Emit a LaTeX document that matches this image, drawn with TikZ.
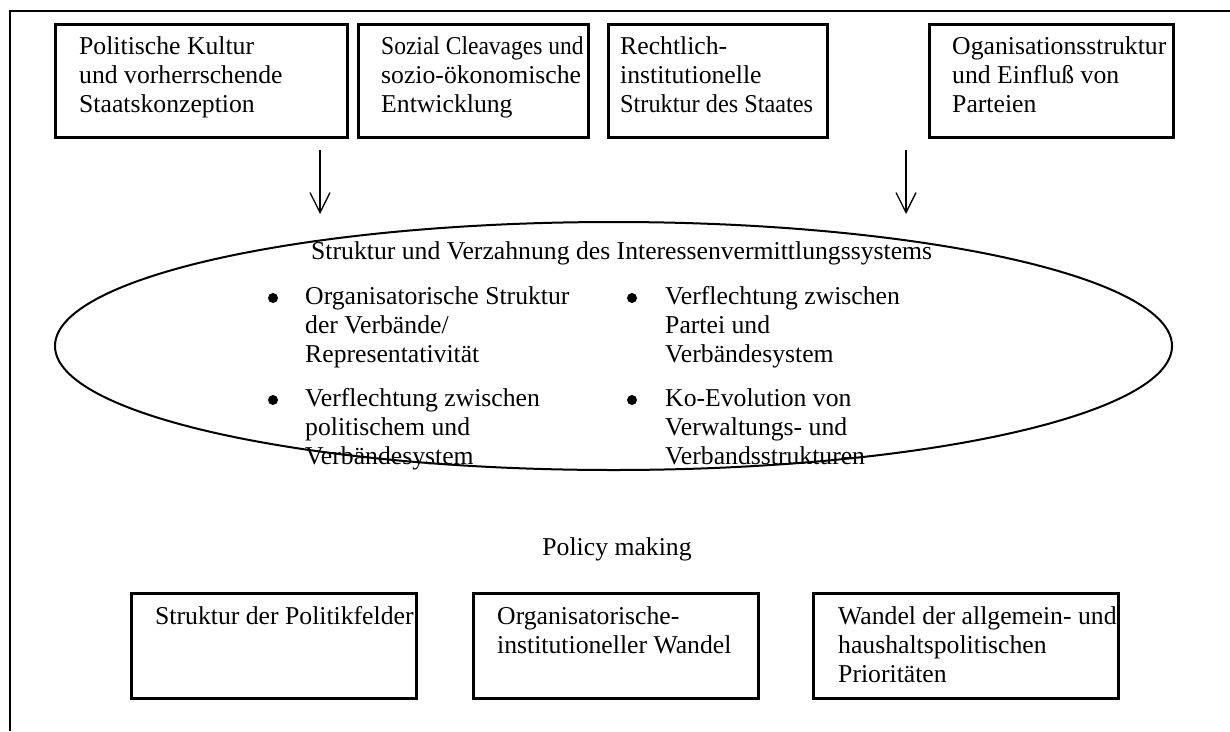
\documentclass[tikz,border=0pt]{standalone}
\usepackage{fontspec}
\setmainfont{Liberation Serif}
\usetikzlibrary{arrows.meta,shapes.geometric}
\newcommand{\narrowline}[2]{{\addfontfeature{FakeStretch=#1}#2}}
\begin{document}
\begin{tikzpicture}[x=1pt,y=-1pt,
  box/.style={draw,line width=2.8pt,anchor=north west,inner sep=0pt,minimum height=113pt},
  lowbox/.style={draw,line width=2.8pt,anchor=north west,inner sep=0pt,minimum height=105pt},
  txt/.style={anchor=base west,inner sep=0pt,align=left,font=\fontsize{25.7}{29}\selectfont},
  dot/.style={circle,fill=black,inner sep=0pt,minimum size=10pt},
  arr/.style={line width=1.3pt,-{Straight Barb[length=20pt,width=20pt,line width=1.3pt]}},
  frame/.style={line width=2.2pt}]
\useasboundingbox (0,0) rectangle (1230,731);
% frame
\coordinate (fa) at (10,731);
\coordinate (fb) at (10,11);
\coordinate (fc) at (1230,11);
\draw[frame] (fa) -- (fb) -- (fc);
% top boxes (text nodes anchored at the baseline of their last line)
\node[box,minimum width=292pt] (b1) at (54,23) {};
\node[box,minimum width=230pt] (b2) at (357,23) {};
\node[box,minimum width=219pt] (b3) at (607,23) {};
\node[box,minimum width=244pt] (b4) at (928,23) {};
\node[txt] (t1) at (79,112) {Politische Kultur\\und vorherrschende\\Staatskonzeption};
\node[txt] (t2) at (381,112) {\narrowline{0.915}{Sozial Cleavages und}\\sozio-ökonomische\\Entwicklung};
\node[txt] (t3) at (620,112) {Rechtlich-\\institutionelle\\\narrowline{0.945}{Struktur des Staates}};
\node[txt] (t4) at (952,112) {Oganisationsstruktur\\und Einfluß von\\Parteien};
% arrows
\coordinate (a1s) at (320,150);
\coordinate (a1e) at (320,214);
\coordinate (a2s) at (906,150);
\coordinate (a2e) at (906,214);
\draw[arr] (a1s) -- (a1e);
\draw[arr] (a2s) -- (a2e);
% ellipse
\node[draw,ellipse,line width=2pt,inner sep=0pt,minimum width=1117pt,minimum height=248pt] (ell) at (613.5,346) {};
\node[txt] (title) at (311,259) {Struktur und Verzahnung des Interessenvermittlungssystems};
\node[dot] (d1) at (273,298) {};
\node[txt] (l1) at (305,362) {Organisatorische Struktur\\der Verbände/\\Representativität};
\node[dot] (d2) at (273,400) {};
\node[txt] (l2) at (305,464) {Verflechtung zwischen\\politischem und\\Verbändesystem};
\node[dot] (d3) at (632,298) {};
\node[txt] (r1) at (665,362) {Verflechtung zwischen\\Partei und\\Verbändesystem};
\node[dot] (d4) at (632,400) {};
\node[txt] (r2) at (665,464) {Ko-Evolution von\\Verwaltungs- und\\Verbandsstrukturen};
% policy making
\node[txt,anchor=base] (pm) at (617,555) {Policy making};
% bottom boxes
\node[lowbox,minimum width=285pt] (b5) at (130,592) {};
\node[lowbox,minimum width=285pt] (b6) at (472,592) {};
\node[lowbox,minimum width=305pt] (b7) at (812,592) {};
\node[txt] (t5) at (155,624) {Struktur der Politikfelder};
\node[txt] (t6) at (497,653) {Organisatorische-\\institutioneller Wandel};
\node[txt] (t7) at (838,682) {Wandel der allgemein- und\\haushaltspolitischen\\Prioritäten};
\end{tikzpicture}
\end{document}
